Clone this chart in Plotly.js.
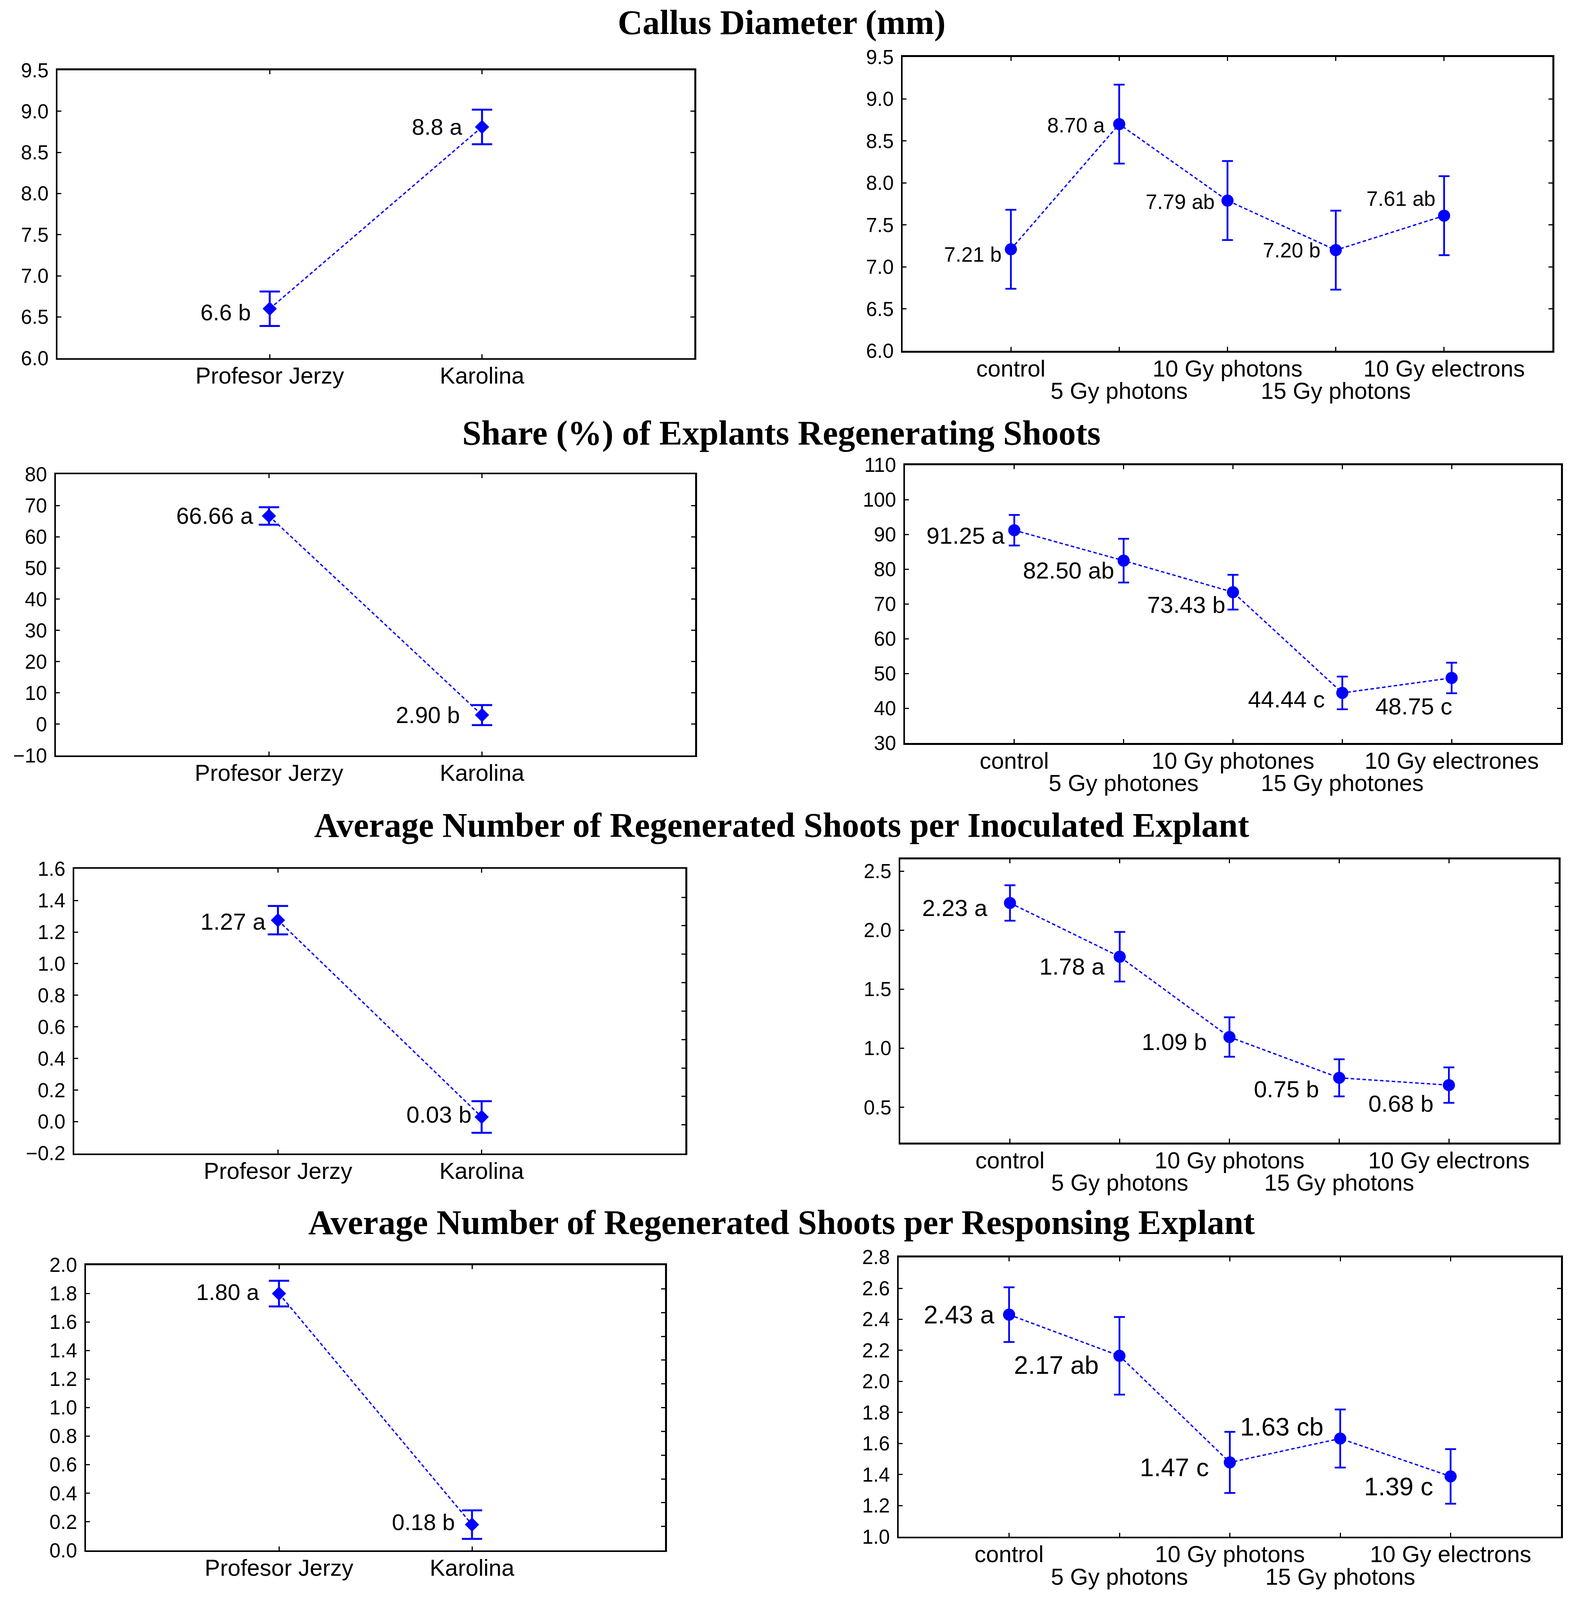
<!DOCTYPE html>
<html>
<head>
<meta charset="utf-8">
<script src="https://cdn.plot.ly/plotly-3.0.1.min.js"></script>
<style>
html,body{margin:0;padding:0;background:#ffffff;overflow:hidden;}
</style>
</head>
<body>
<div id="chart"></div>
<script>
// ---------------- DATA ----------------
const cultivars = ["Profesor Jerzy", "Karolina"];
const treatments = ["control", "5 Gy photons", "10 Gy photons", "15 Gy photons", "10 Gy electrons"];
const treatmentsShare = ["control", "5 Gy photones", "10 Gy photones", "15 Gy photones", "10 Gy electrones"];

const sectionTitles = [
  "Callus Diameter (mm)",
  "Share (%) of Explants Regenerating Shoots",
  "Average Number of Regenerated Shoots per Inoculated Explant",
  "Average Number of Regenerated Shoots per Responsing Explant"
];

// Callus diameter
const callusCultivarMean = [6.60, 8.81];
const callusCultivarErr = [0.21, 0.21];
const callusCultivarLabel = ["6.6 b", "8.8 a"];
const callusTreatMean = [7.21, 8.70, 7.79, 7.20, 7.61];
const callusTreatErr = [0.47, 0.47, 0.47, 0.47, 0.47];
const callusTreatLabel = ["7.21 b", "8.70 a", "7.79 ab", "7.20 b", "7.61 ab"];

// Share of explants regenerating shoots
const shareCultivarMean = [66.66, 2.90];
const shareCultivarErr = [2.8, 3.2];
const shareCultivarLabel = ["66.66 a", "2.90 b"];
const shareTreatMean = [91.25, 82.50, 73.43, 44.44, 48.75];
const shareTreatErr = [4.4, 6.3, 5.0, 4.7, 4.4];
const shareTreatLabel = ["91.25 a", "82.50 ab", "73.43 b", "44.44 c", "48.75 c"];

// Shoots per inoculated explant
const inocCultivarMean = [1.275, 0.03];
const inocCultivarErr = [0.09, 0.10];
const inocCultivarLabel = ["1.27 a", "0.03 b"];
const inocTreatMean = [2.23, 1.775, 1.095, 0.75, 0.688];
const inocTreatErr = [0.15, 0.21, 0.167, 0.157, 0.15];
const inocTreatLabel = ["2.23 a", "1.78 a", "1.09 b", "0.75 b", "0.68 b"];

// Shoots per responsing explant
const respCultivarMean = [1.80, 0.18];
const respCultivarErr = [0.09, 0.10];
const respCultivarLabel = ["1.80 a", "0.18 b"];
const respTreatMean = [2.43, 2.165, 1.478, 1.632, 1.388];
const respTreatErr = [0.176, 0.25, 0.197, 0.187, 0.176];
const respTreatLabel = ["2.43 a", "2.17 ab", "1.47 c", "1.63 cb", "1.39 c"];

// right-hand axis tick positions (where they differ from the left axis)
const inocCultivarRightTicks = [-0.02, 0.16, 0.34, 0.52, 0.70, 0.88, 1.06, 1.24, 1.42];
const inocTreatRightTicks = [0.4, 0.6, 0.8, 1.0, 1.2, 1.4, 1.6, 1.8, 2.0, 2.2, 2.4];
const respCultivarRightTicks = [0.1667, 0.3333, 0.5, 0.6667, 0.8333, 1.0, 1.1667, 1.3333, 1.5, 1.6667, 1.8333];

// ---------------- STYLE / LAYOUT ----------------
const REF_W = 4036, REF_H = 4696;
const W = window.innerWidth || REF_W;
const H = window.innerHeight || REF_H;
const sx = W / REF_W, sy = H / REF_H;
document.getElementById("chart").style.width = W + "px";
document.getElementById("chart").style.height = H + "px";

const BLUE = "#0000FF";
const SANS = "Liberation Sans, Arial, sans-serif";
const SERIF = "Liberation Serif, Times New Roman, serif";

const panels = [
  {cats: cultivars, mean: callusCultivarMean, err: callusCultivarErr, lab: callusCultivarLabel,
   box: [147, 206, 1777, 1051], yr: [6, 9.5], dtick: 0.5, fmt: ".1f", side: "L", labSize: 58,
   off: [[-46, -10], [-48, 0]], rt: null},
  {cats: treatments, mean: callusTreatMean, err: callusTreatErr, lab: callusTreatLabel,
   box: [2310, 167, 3973, 1030], yr: [6, 9.5], dtick: 0.5, fmt: ".1f", side: "R", labSize: 53,
   off: [[-22, -15], [-34, -3], [-31, -3], [-38, 0], [-20, 50]], rt: null},
  {cats: cultivars, mean: shareCultivarMean, err: shareCultivarErr, lab: shareCultivarLabel,
   box: [143, 1392, 1779, 2217], yr: [-10, 80], dtick: 10, fmt: "d", side: "L", labSize: 59,
   off: [[-38, 0], [-55, 0]], rt: null},
  {cats: treatmentsShare, mean: shareTreatMean, err: shareTreatErr, lab: shareTreatLabel,
   box: [2316, 1365, 3995, 2181], yr: [30, 110], dtick: 10, fmt: "d", side: "R", labSize: 60,
   off: [[-22, -16], [-22, -29], [-18, -37], [-42, -19], [4, -84]], rt: null},
  {cats: cultivars, mean: inocCultivarMean, err: inocCultivarErr, lab: inocCultivarLabel,
   box: [190, 2550, 1754, 3385], yr: [-0.2, 1.6], dtick: 0.2, fmt: ".1f", side: "L", labSize: 60,
   off: [[-29, -4], [-24, 7]], rt: inocCultivarRightTicks},
  {cats: treatments, mean: inocTreatMean, err: inocTreatErr, lab: inocTreatLabel,
   box: [2304, 2522, 3989, 3354], yr: [0.2, 2.6], dtick: 0.5, fmt: ".1f", side: "R", labSize: 60,
   off: [[-56, -15], [-37, -29], [-56, -14], [-49, -34], [-37, -54]], rt: inocTreatRightTicks},
  {cats: cultivars, mean: respCultivarMean, err: respCultivarErr, lab: respCultivarLabel,
   box: [220, 3713, 1702, 4550], yr: [0, 2.0], dtick: 0.2, fmt: ".1f", side: "L", labSize: 58,
   off: [[-48, 5], [-42, 7]], rt: respCultivarRightTicks},
  {cats: treatments, mean: respTreatMean, err: respTreatErr, lab: respTreatLabel,
   box: [2300, 3690, 3995, 4510], yr: [1.0, 2.8], dtick: 0.2, fmt: ".1f", side: "R", labSize: 65,
   off: [[-35, 0], [-51, -27], [-52, -14], [-41, 35], [-43, -30]], rt: null}
];

const titleY = [66, 1271, 2422, 3588];

const traces = [];
const layout = {
  width: W, height: H,
  margin: {l: 0, r: 0, t: 0, b: 0},
  paper_bgcolor: "#ffffff", plot_bgcolor: "#ffffff",
  showlegend: false,
  annotations: []
};

const TICKFONT = {family: SANS, size: Math.round(51 * sx), color: "#000000"};
const CATFONT = {family: SANS, size: Math.round(59 * sx), color: "#000000"};
const mainStandoff = Math.round(49 * sy - 53);
const rowTwoStandoff = Math.round(115 * sy - 37);

panels.forEach((p, i) => {
  const xm = 2 * i + 1, xo = 2 * i + 2;
  const ym = 2 * i + 1, yo = 2 * i + 2;
  const xs = (n) => n === 1 ? "x" : "x" + n;
  const ys = (n) => n === 1 ? "y" : "y" + n;
  const xk = (n) => n === 1 ? "xaxis" : "xaxis" + n;
  const yk = (n) => n === 1 ? "yaxis" : "yaxis" + n;
  const n = p.cats.length;
  const idx = p.cats.map((c, j) => j);
  const isL = p.side === "L";
  const xr = [-1, n];
  const [x0, y0, x1, y1] = p.box;
  const xdom = [x0 / REF_W, x1 / REF_W];
  const ydom = [1 - y1 / REF_H, 1 - y0 / REF_H];

  traces.push({
    type: "scatter", mode: "lines+markers",
    x: idx, y: p.mean,
    xaxis: xs(xm), yaxis: ys(ym),
    line: {color: BLUE, width: 3.5, dash: "9px,6px"},
    marker: {color: BLUE, size: isL ? 28 : 31, symbol: isL ? "diamond" : "circle"},
    error_y: {type: "data", array: p.err, visible: true, color: BLUE,
              thickness: isL ? 5 : 4.5, width: isL ? 26 : 14},
    hoverinfo: "skip"
  });

  const mainText = p.cats.map((c, j) => (isL || j % 2 === 0) ? c : "");
  layout[xk(xm)] = {
    domain: xdom, anchor: ys(ym), range: xr,
    tickmode: "array", tickvals: idx, ticktext: mainText,
    ticks: "inside", ticklen: 10, tickwidth: 3, tickcolor: "#000",
    showline: true, linewidth: 4.5, linecolor: "#000", mirror: "ticks",
    showgrid: false, zeroline: false, tickfont: CATFONT,
    ticklabelstandoff: mainStandoff, fixedrange: true
  };
  if (!isL) {
    const oIdx = idx.filter(j => j % 2 === 1);
    // empty carrier so the staggered second row of category labels gets drawn
    traces.push({type: "scatter", mode: "markers", x: oIdx, y: oIdx.map(() => null),
                 xaxis: xs(xo), yaxis: ys(ym), hoverinfo: "skip", showlegend: false,
                 marker: {opacity: 0}});
    layout[xk(xo)] = {
      overlaying: xs(xm), anchor: ys(ym), side: "bottom", range: xr,
      tickmode: "array", tickvals: oIdx, ticktext: oIdx.map(j => p.cats[j]),
      ticks: "", showline: false, showgrid: false, zeroline: false,
      tickfont: CATFONT, ticklabelstandoff: rowTwoStandoff, fixedrange: true
    };
  }
  layout[yk(ym)] = {
    domain: ydom, anchor: xs(xm), range: p.yr,
    dtick: p.dtick, tick0: 0, tickformat: p.fmt,
    ticks: "inside", ticklen: 10, tickwidth: 3, tickcolor: "#000",
    showline: true, linewidth: 4.5, linecolor: "#000",
    mirror: p.rt ? true : "ticks",
    showgrid: false, zeroline: false, tickfont: TICKFONT,
    ticklabelstandoff: 8, fixedrange: true
  };
  if (p.rt) {
    traces.push({type: "scatter", mode: "markers", x: [0], y: [null],
                 xaxis: xs(xm), yaxis: ys(yo), hoverinfo: "skip", showlegend: false,
                 marker: {opacity: 0}});
    layout[yk(yo)] = {
      overlaying: ys(ym), anchor: xs(xm), side: "right", range: p.yr,
      tickmode: "array", tickvals: p.rt, showticklabels: false,
      ticks: "inside", ticklen: 10, tickwidth: 3, tickcolor: "#000",
      showline: false, showgrid: false, zeroline: false, fixedrange: true
    };
  }

  p.lab.forEach((t, j) => {
    layout.annotations.push({
      xref: xs(xm), yref: ys(ym), x: j, y: p.mean[j], text: t,
      showarrow: false, xanchor: "right", yanchor: "middle",
      xshift: p.off[j][0] * sx, yshift: p.off[j][1] * sy,
      font: {family: SANS, size: Math.round(p.labSize * sx), color: "#000"}
    });
  });
});

sectionTitles.forEach((t, i) => {
  layout.annotations.push({
    xref: "paper", yref: "paper", x: 2000 / REF_W, y: 1 - titleY[i] / REF_H,
    xanchor: "center", yanchor: "middle", showarrow: false, text: t,
    font: {family: SERIF, size: Math.round(88 * sx), color: "#000", weight: "bold"}
  });
});

Plotly.newPlot("chart", traces, layout, {staticPlot: true, displayModeBar: false});
</script>
</body>
</html>
